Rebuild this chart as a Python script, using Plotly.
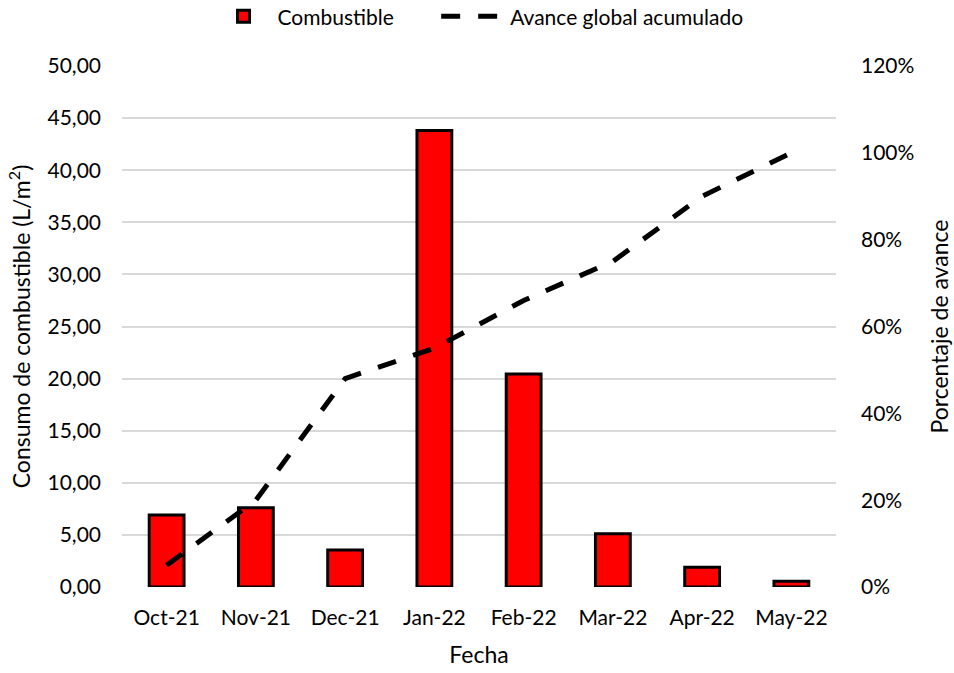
import plotly.graph_objects as go

# Monthly fuel consumption and cumulative overall progress
fechas = ["Oct-21", "Nov-21", "Dec-21", "Jan-22", "Feb-22", "Mar-22", "Apr-22", "May-22"]
combustible = [6.9, 7.6, 3.55, 43.8, 20.45, 5.1, 1.9, 0.55]
avance_pct = [5, 20, 48, 55, 66, 75, 90, 100]

FONT = "Lato"
TICK_SIZE = 21
TITLE_SIZE = 23

fig = go.Figure()

fig.add_trace(go.Bar(
    x=fechas,
    y=combustible,
    name="Combustible",
    marker=dict(color="#ff0000", line=dict(color="#000000", width=3)),
    yaxis="y",
    legend="legend",
))

fig.add_trace(go.Scatter(
    x=fechas,
    y=avance_pct,
    name="Avance global acumulado",
    mode="lines",
    line=dict(color="#000000", width=5, dash="19px,18px"),
    yaxis="y2",
    legend="legend2",
))

legend_common = dict(
    orientation="h",
    y=1.134, yanchor="top",
    xanchor="left",
    font=dict(family=FONT, size=TICK_SIZE, color="#000000"),
    bgcolor="rgba(0,0,0,0)",
)

fig.update_layout(
    width=954,
    height=673,
    margin=dict(l=122, r=118, t=66, b=86, autoexpand=False),
    paper_bgcolor="white",
    plot_bgcolor="white",
    separators=",.",
    bargap=0.61,
    font=dict(family=FONT, size=TICK_SIZE, color="#000000"),
    showlegend=True,
    legend=dict(legend_common, x=0.1226, itemwidth=58),
    legend2=dict(legend_common, x=0.44, itemwidth=64),
    xaxis=dict(
        title=dict(text="Fecha", font=dict(size=TITLE_SIZE), standoff=18),
        showgrid=False,
        showline=False,
        ticks="",
        ticklabelstandoff=16,
        tickfont=dict(size=TICK_SIZE),
    ),
    yaxis=dict(
        title=dict(text="Consumo de combustible (L/m<sup>2</sup>)", font=dict(size=TITLE_SIZE), standoff=10),
        range=[0, 50],
        dtick=5,
        tickformat=".2f",
        showgrid=True,
        gridcolor="#d9d9d9",
        gridwidth=1.5,
        zeroline=False,
        showline=False,
        ticks="",
        ticklabelstandoff=20,
        tickfont=dict(size=TICK_SIZE),
    ),
    yaxis2=dict(
        title=dict(text="Porcentaje de avance", font=dict(size=TITLE_SIZE), standoff=18),
        overlaying="y",
        side="right",
        range=[0, 120],
        dtick=20,
        ticksuffix="%",
        showgrid=False,
        zeroline=False,
        showline=False,
        ticks="",
        ticklabelstandoff=24,
        tickfont=dict(size=TICK_SIZE),
    ),
)

fig.write_html("out.html")
